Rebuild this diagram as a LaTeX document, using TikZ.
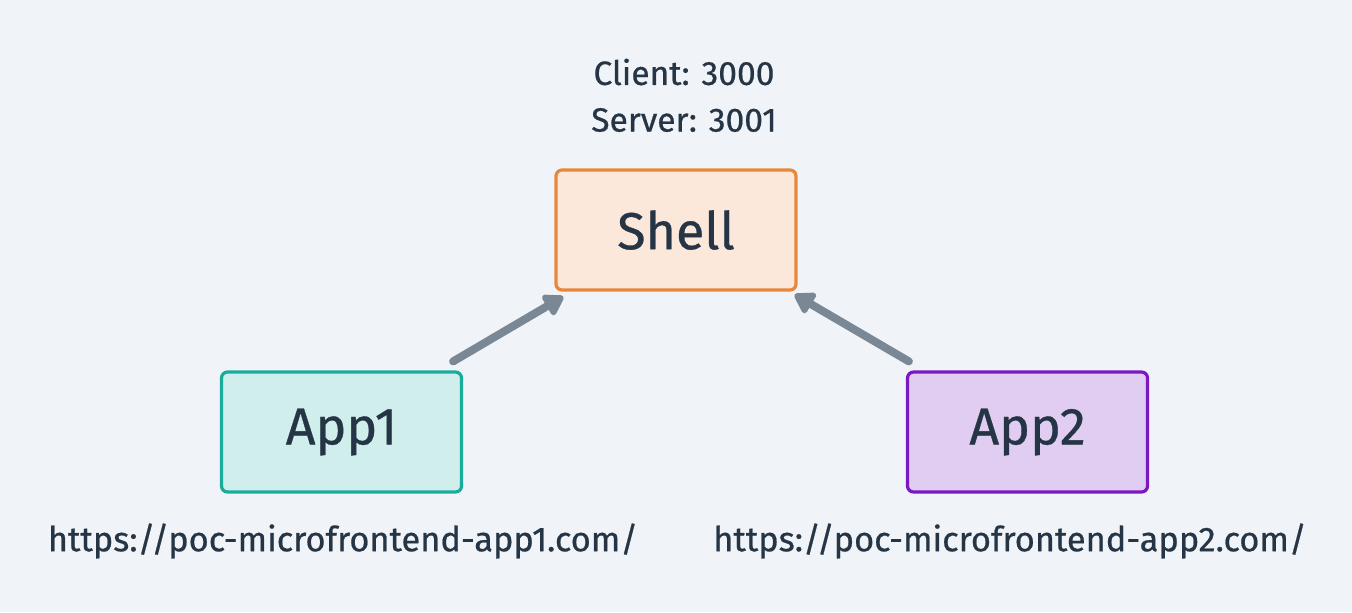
\documentclass[tikz,border=0pt]{standalone}
\usepackage{fontspec}
\setmainfont{Fira Sans}[FakeBold=0.6,UprightFeatures={FakeBold=0.6}]
\usetikzlibrary{arrows.meta,calc}
\definecolor{bg}{HTML}{F0F4F8}
\definecolor{ink}{HTML}{253545}
\definecolor{shellfill}{HTML}{FCE8DA}
\definecolor{shelldraw}{HTML}{E8873A}
\definecolor{appafill}{HTML}{D0EEEB}
\definecolor{appadraw}{HTML}{1AAC9A}
\definecolor{appbfill}{HTML}{E2CDF2}
\definecolor{appbdraw}{HTML}{7A18C4}
\definecolor{arrowc}{HTML}{7A8896}
\tikzset{
  box/.style={rectangle, rounded corners=3pt, line width=1.6pt, minimum width=120pt, minimum height=60pt, inner sep=0pt, text=ink, font=\fontsize{26}{30}\selectfont},
  lbl/.style={text=ink, inner sep=0pt},
  conn/.style={draw=arrowc, line width=4pt, line cap=round, -{Triangle[length=11pt,width=13pt,round]}}
}
\begin{document}
\begin{tikzpicture}[x=0.5pt,y=-0.5pt]
\fill[bg] (0,0) rectangle (1352,612);
\useasboundingbox (0,0) rectangle (1352,612);
\node[box, fill=shellfill, draw=shelldraw] (shell) at (676,230) {Shell};
\node[box, fill=appafill, draw=appadraw] (app1) at (341.5,432) {App1};
\node[box, fill=appbfill, draw=appbdraw] (app2) at (1027.5,432) {App2};
\node[lbl, font=\fontsize{16.8}{20}\selectfont] (client) at (684,72) {Client: 3000};
\node[lbl, font=\fontsize{16.8}{20}\selectfont] (server) at (684,120) {Server: 3001};
\node[lbl, font=\fontsize{17.2}{20}\selectfont] (url1) at (343,541) {https://poc-microfrontend-app1.com/};
\node[lbl, font=\fontsize{17.2}{20}\selectfont] (url2) at (1010,541) {https://poc-microfrontend-app2.com/};
\coordinate (a1s) at ($(app1.north east)+(-10,-9)$);
\coordinate (a1e) at ($(shell.south west)+(9,5)$);
\coordinate (a2s) at ($(app2.north west)+(3,-9)$);
\coordinate (a2e) at ($(shell.south east)+(-3,3)$);
\draw[conn] (a1s) -- (a1e);
\draw[conn] (a2s) -- (a2e);
\end{tikzpicture}
\end{document}
